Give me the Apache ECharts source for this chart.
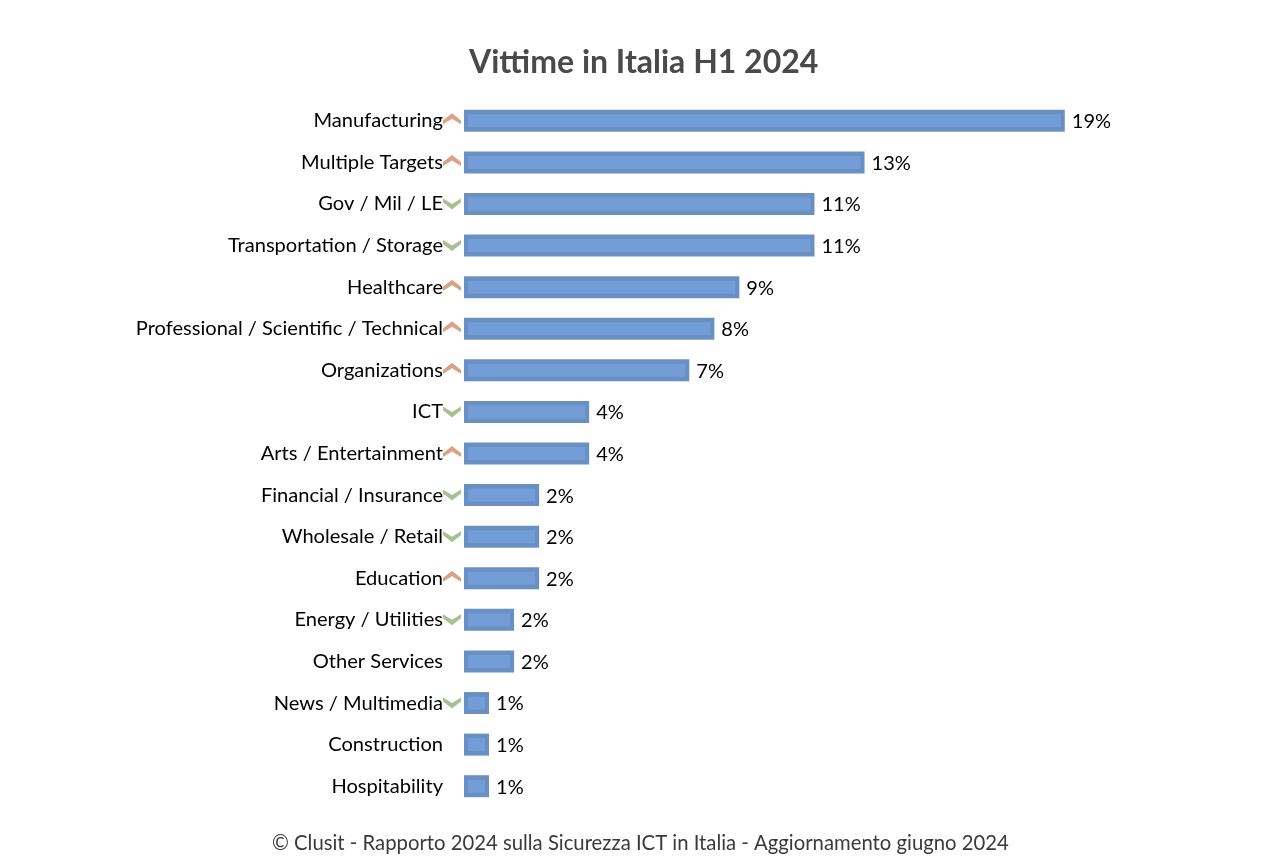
<!DOCTYPE html>
<html><head><meta charset="utf-8">
<style>html,body{margin:0;padding:0;background:#fff}#c{width:1261px;height:861px}</style>
<script src="https://cdn.jsdelivr.net/npm/echarts@6/dist/echarts.min.js"></script>
</head><body><div id="c"></div>
<script>
const categories = ['Manufacturing','Multiple Targets','Gov / Mil / LE','Transportation / Storage','Healthcare','Professional / Scientific / Technical','Organizations','ICT','Arts / Entertainment','Financial / Insurance','Wholesale / Retail','Education','Energy / Utilities','Other Services','News / Multimedia','Construction','Hospitability'];
const values = [19.2,12.8,11.2,11.2,8.8,8,7.2,4,4,2.4,2.4,2.4,1.6,1.6,0.8,0.8,0.8];
const trends = ['up','up','down','down','up','up','up','down','up','down','down','up','down','','down','',''];
const titleText = 'Vittime in Italia H1 2024';
const footerText = '© Clusit - Rapporto 2024 sulla Sicurezza ICT in Italia - Aggiornamento giugno 2024';

const chevUp = 'path://M0,6.5 L8,0 L16,6.5 L16,10 L8,5 L0,10 Z';
const chevDown = 'path://M0,0 L8,5 L16,0 L16,3.5 L8,10 L0,3.5 Z';
const markers = dir => categories.map((c,i)=> trends[i]===dir ? [0,c] : null).filter(Boolean);

const chart = echarts.init(document.getElementById('c'), null, {renderer:'canvas'});
chart.setOption({
  animation:false,
  backgroundColor:'#fff',
  title:[
    {text:titleText,left:469,top:47,padding:0,textStyle:{fontFamily:'Lato',fontWeight:'bold',fontSize:32,color:'#4a4a4a'}},
    {text:footerText,left:272,top:833,padding:0,textStyle:{fontFamily:'Lato',fontWeight:'normal',fontSize:20.3,color:'#3a3a3a'}}
  ],
  grid:{left:464,top:100,width:751,height:707},
  xAxis:{type:'value',min:0,max:24,show:false},
  yAxis:{type:'category',data:categories,inverse:true,
    axisLine:{show:false},axisTick:{show:false},
    axisLabel:{margin:21,fontFamily:'Lato',fontSize:20.1,color:'#000'}},
  series:[
    {type:'bar',name:'Vittime',data:values,barWidth:22,
      itemStyle:{color:'#6a90c3'},
      label:{show:true,position:'right',distance:7,offset:[0,1],fontFamily:'Lato',fontSize:20,color:'#000',
        formatter:p=>Math.round(p.value)+'%'}},
    {type:'custom',name:'inner',data:values.map((v,i)=>[v,i]),silent:true,z:3,
      encode:{x:0,y:1},
      renderItem:(params,api)=>{
        const end=api.coord([api.value(0),api.value(1)]);
        const start=api.coord([0,api.value(1)]);
        return {type:'rect',shape:{x:start[0]+4,y:end[1]-6.5,width:end[0]-start[0]-8,height:13},
          style:{fill:'#739dd6'}};
      }},
    {type:'scatter',name:'up',data:markers('up'),symbol:chevUp,symbolSize:[18,11],symbolOffset:[-12,-2],
      clip:false,silent:true,itemStyle:{color:'#d28b62'}},
    {type:'scatter',name:'down',data:markers('down'),symbol:chevDown,symbolSize:[18,11],symbolOffset:[-12,0],
      clip:false,silent:true,itemStyle:{color:'#8fb178'}}
  ]
});
</script></body></html>
